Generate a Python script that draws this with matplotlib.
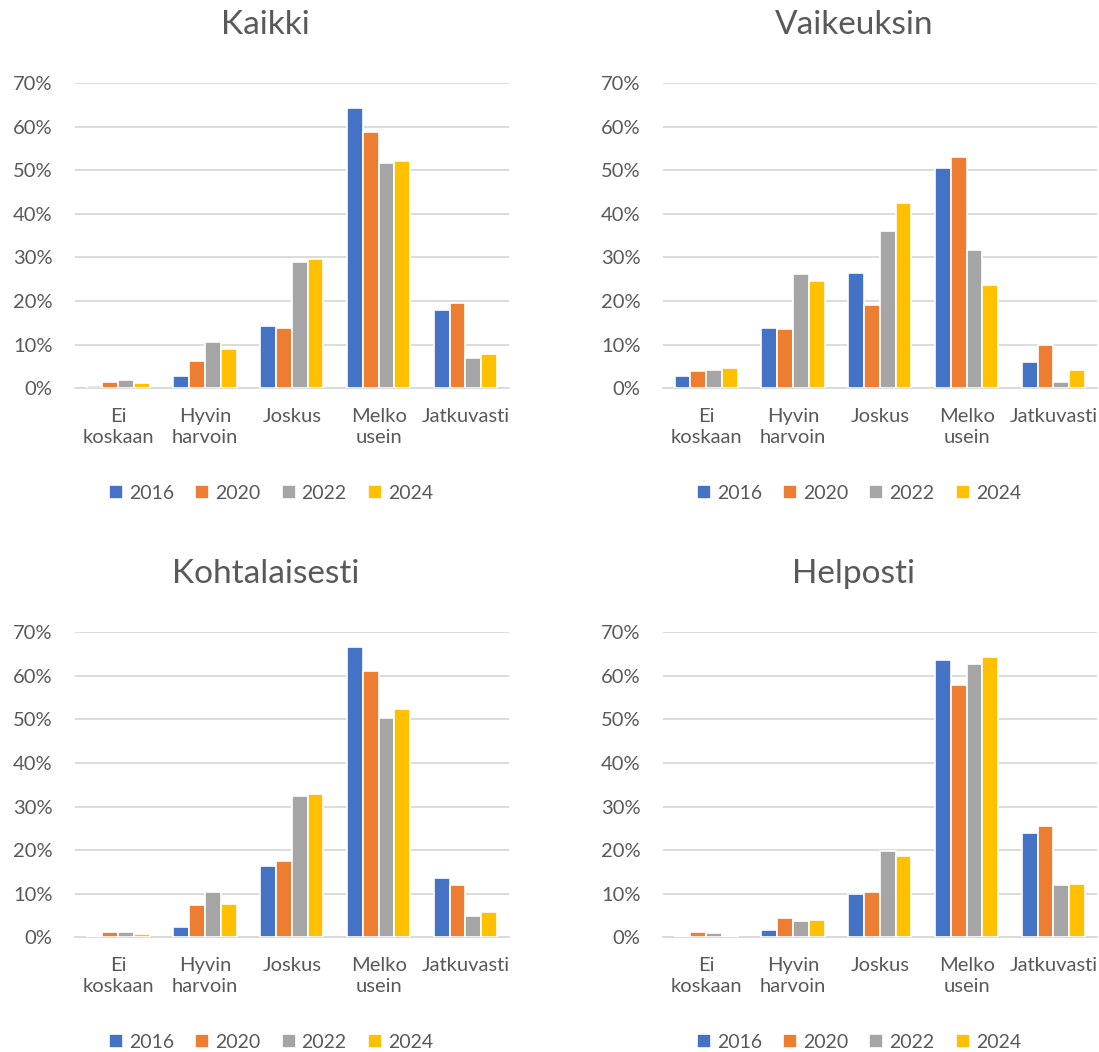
import matplotlib.pyplot as plt
import numpy as np

plt.rcParams['font.family'] = ['Lato', 'DejaVu Sans']

categories = ['Ei\nkoskaan', 'Hyvin\nharvoin', 'Joskus', 'Melko\nusein', 'Jatkuvasti']
years = ['2016', '2020', '2022', '2024']
colors = ['#4472C4', '#ED7D31', '#A5A5A5', '#FFC000']

# arvot prosentteina, rivit = vuodet
kaikki = [
    [0.5, 2.8, 14.2, 64.3, 17.9],
    [1.5, 6.3, 13.7, 58.8, 19.5],
    [1.8, 10.7, 28.9, 51.6, 6.9],
    [1.2, 8.9, 29.6, 52.1, 7.8],
]
vaikeuksin = [
    [2.7, 13.7, 26.5, 50.6, 6.0],
    [3.9, 13.6, 19.1, 53.1, 9.8],
    [4.1, 26.3, 36.1, 31.6, 1.5],
    [4.6, 24.7, 42.4, 23.6, 4.1],
]
kohtalaisesti = [
    [0.4, 2.4, 16.3, 66.7, 13.7],
    [1.3, 7.5, 17.5, 61.0, 12.1],
    [1.2, 10.3, 32.4, 50.4, 5.0],
    [0.7, 7.6, 32.8, 52.5, 5.7],
]
helposti = [
    [0.3, 1.75, 10.0, 63.7, 23.9],
    [1.15, 4.5, 10.3, 58.0, 25.6],
    [1.0, 3.8, 19.7, 62.8, 12.0],
    [0.3, 3.9, 18.7, 64.4, 12.2],
]

panels = [
    ('Kaikki', kaikki, [0.068, 0.631, 0.395, 0.290]),
    ('Vaikeuksin', vaikeuksin, [0.603, 0.631, 0.395, 0.290]),
    ('Kohtalaisesti', kohtalaisesti, [0.068, 0.109, 0.395, 0.290]),
    ('Helposti', helposti, [0.603, 0.109, 0.395, 0.290]),
]

text_color = '#595959'
grid_color = '#D9D9D9'

fig = plt.figure(figsize=(10.99, 10.52), dpi=100)

for title, data, rect in panels:
    ax = fig.add_axes(rect)
    x = np.arange(len(categories))
    w = 0.182
    for i, (year, vals) in enumerate(zip(years, data)):
        ax.bar(x + (i - 1.5) * w, np.array(vals) / 100, width=w, color=colors[i],
               edgecolor='white', linewidth=1.2, label=year, zorder=3)
    ax.set_xlim(-0.5, len(categories) - 0.5)
    ax.set_ylim(0, 0.7)
    ax.set_yticks(np.arange(0, 0.71, 0.1))
    ax.set_yticklabels([f'{int(round(v * 100))}%' for v in np.arange(0, 0.71, 0.1)])
    ax.set_xticks(x)
    ax.set_xticklabels(categories, linespacing=1.3)
    ax.tick_params(axis='both', length=0, labelsize=14.5, colors=text_color)
    ax.tick_params(axis='x', pad=14)
    ax.tick_params(axis='y', pad=16)
    ax.grid(axis='y', color=grid_color, linewidth=1.3, zorder=0)
    for s in ['top', 'right', 'left']:
        ax.spines[s].set_visible(False)
    ax.spines['bottom'].set_color(grid_color)
    ax.spines['bottom'].set_linewidth(1.3)
    ax.text(0.44, 1.19, title, transform=ax.transAxes, ha='center', va='center',
            fontsize=24, color=text_color)
    ax.legend(loc='center', bbox_to_anchor=(0.452, -0.344), ncol=4, frameon=False,
              fontsize=14, labelcolor=text_color, handlelength=0.72, handleheight=0.72,
              handletextpad=0.31, columnspacing=1.08)

fig.savefig('out.png', dpi=100, facecolor='white')
